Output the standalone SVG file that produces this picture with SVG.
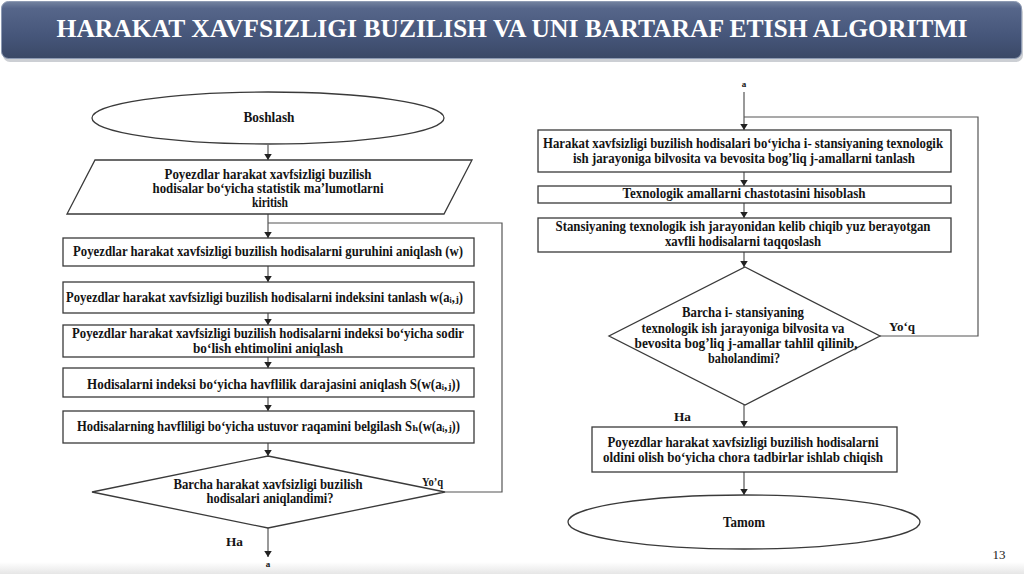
<svg xmlns="http://www.w3.org/2000/svg" width="1024" height="574" viewBox="0 0 1024 574">
<defs>
<linearGradient id="hdr" x1="0" y1="0" x2="0" y2="1">
<stop offset="0" stop-color="#7483a0"/>
<stop offset="0.12" stop-color="#56668a"/>
<stop offset="0.6" stop-color="#46567a"/>
<stop offset="1" stop-color="#3a4866"/>
</linearGradient>
<linearGradient id="foot" x1="0" y1="0" x2="0" y2="1">
<stop offset="0" stop-color="#ffffff"/>
<stop offset="1" stop-color="#e6e6e6"/>
</linearGradient>
<marker id="ah" viewBox="0 0 8 10" refX="8" refY="5" markerWidth="6" markerHeight="8" markerUnits="userSpaceOnUse" orient="auto">
<path d="M0,0 L8,5 L0,10 z" fill="#222"/>
</marker>
</defs>
<style>
.sh{fill:#fff;stroke:#3a3a3a;stroke-width:1.3}
.ln{fill:none;stroke:#555;stroke-width:1.2}
.t{font-family:"Liberation Serif","Times New Roman","DejaVu Serif",serif;font-weight:bold;font-size:14px;fill:#141414;text-anchor:middle}
.s{font-family:"Liberation Serif","Times New Roman","DejaVu Serif",serif;font-weight:bold;font-size:14px;fill:#141414}
.lb{font-family:"Liberation Serif","Times New Roman",serif;font-weight:bold;font-size:13px;fill:#141414}
.sm{font-family:"Liberation Serif","Times New Roman",serif;font-weight:bold;font-size:9px;fill:#141414;text-anchor:middle}
</style>
<rect x="0" y="0" width="1024" height="574" fill="#fff"/>
<rect x="0" y="562" width="1024" height="12" fill="url(#foot)"/>
<g id="header">
<rect x="3" y="5" width="1020" height="57" rx="7" fill="#9aa0aa" opacity="0.5"/>
<rect x="1.5" y="1.5" width="1020" height="57" rx="7" fill="url(#hdr)" stroke="#8d9ab3" stroke-width="1"/>
<text x="512" y="37" font-family="'Liberation Serif','Times New Roman',serif" font-weight="bold" font-size="25" fill="#fff" text-anchor="middle" textLength="911" lengthAdjust="spacingAndGlyphs">HARAKAT XAVFSIZLIGI BUZILISH VA UNI BARTARAF ETISH ALGORITMI</text>
</g>
<g id="connectors">
<line class="ln" x1="268" y1="145" x2="268" y2="160" marker-end="url(#ah)"/>
<line class="ln" x1="268" y1="214" x2="268" y2="238" marker-end="url(#ah)"/>
<line class="ln" x1="268" y1="266" x2="268" y2="282" marker-end="url(#ah)"/>
<line class="ln" x1="268" y1="313" x2="268" y2="325" marker-end="url(#ah)"/>
<line class="ln" x1="268" y1="357" x2="268" y2="368" marker-end="url(#ah)"/>
<line class="ln" x1="268" y1="397" x2="268" y2="411" marker-end="url(#ah)"/>
<line class="ln" x1="268" y1="443" x2="268" y2="456" marker-end="url(#ah)"/>
<line class="ln" x1="268" y1="528" x2="268" y2="557" marker-end="url(#ah)"/>
<polyline class="ln" points="445,492 502,492 502,223 268,223"/>
<line class="ln" x1="744" y1="92" x2="744" y2="130" marker-end="url(#ah)"/>
<polyline class="ln" points="880,336 978,336 978,117 744,117"/>
<line class="ln" x1="744" y1="172" x2="744" y2="186" marker-end="url(#ah)"/>
<line class="ln" x1="744" y1="203" x2="744" y2="218" marker-end="url(#ah)"/>
<line class="ln" x1="744" y1="252" x2="744" y2="267" marker-end="url(#ah)"/>
<line class="ln" x1="744" y1="405" x2="744" y2="427" marker-end="url(#ah)"/>
<line class="ln" x1="744" y1="472" x2="744" y2="495" marker-end="url(#ah)"/>
<text class="lb" x="422" y="486" textLength="21" lengthAdjust="spacingAndGlyphs">Yo’q</text>
<text class="lb" x="226" y="546" textLength="17" lengthAdjust="spacingAndGlyphs">Ha</text>
<text class="sm" x="268" y="567">a</text>
<text class="sm" x="744" y="87">a</text>
<text class="lb" x="889" y="331" textLength="26" lengthAdjust="spacingAndGlyphs">Yo‘q</text>
<text class="lb" x="674" y="421" textLength="17" lengthAdjust="spacingAndGlyphs">Ha</text>
</g>
<g id="start">
<ellipse class="sh" cx="268" cy="118" rx="176" ry="26"/>
<text class="t" x="269" y="122" textLength="51" lengthAdjust="spacingAndGlyphs">Boshlash</text>
</g>
<g id="input">
<polygon class="sh" points="95,160 472,160 444,214 67,214"/>
<text class="t" x="268" y="179" textLength="207" lengthAdjust="spacingAndGlyphs">Poyezdlar harakat xavfsizligi buzilish</text>
<text class="t" x="268" y="193" textLength="231" lengthAdjust="spacingAndGlyphs">hodisalar bo‘yicha statistik ma’lumotlarni</text>
<text class="t" x="270" y="207" textLength="36" lengthAdjust="spacingAndGlyphs">kiritish</text>
</g>
<g id="box1">
<rect class="sh" x="63" y="238" width="411" height="28"/>
<text class="t" x="268" y="256" textLength="390" lengthAdjust="spacingAndGlyphs">Poyezdlar harakat xavfsizligi buzilish hodisalarni guruhini aniqlash (w)</text>
</g>
<g id="box2">
<rect class="sh" x="63" y="282" width="411" height="31"/>
<text class="s" x="66" y="302" textLength="397" lengthAdjust="spacingAndGlyphs">Poyezdlar harakat xavfsizligi buzilish hodisalarni indeksini tanlash w(aᵢ,ⱼ)</text>
</g>
<g id="box3">
<rect class="sh" x="63" y="325" width="411" height="32"/>
<text class="t" x="268" y="338" textLength="392" lengthAdjust="spacingAndGlyphs">Poyezdlar harakat xavfsizligi buzilish hodisalarni indeksi bo‘yicha sodir</text>
<text class="t" x="268" y="353" textLength="150" lengthAdjust="spacingAndGlyphs">bo‘lish ehtimolini aniqlash</text>
</g>
<g id="box4">
<rect class="sh" x="63" y="368" width="411" height="29"/>
<text class="s" x="87" y="389" textLength="373" lengthAdjust="spacingAndGlyphs">Hodisalarni indeksi bo‘yicha havflilik darajasini aniqlash S(w(aᵢ,ⱼ))</text>
</g>
<g id="box5">
<rect class="sh" x="63" y="411" width="411" height="32"/>
<text class="s" x="77" y="431" textLength="383" lengthAdjust="spacingAndGlyphs">Hodisalarning havfliligi bo‘yicha ustuvor raqamini belgilash Sₕ(w(aᵢ,ⱼ))</text>
</g>
<g id="decision1">
<polygon class="sh" points="268,456 445,492 268,528 92,492"/>
<text class="t" x="268" y="489" textLength="189" lengthAdjust="spacingAndGlyphs">Barcha harakat xavfsizligi buzilish</text>
<text class="t" x="270" y="503" textLength="127" lengthAdjust="spacingAndGlyphs">hodisalari aniqlandimi?</text>
</g>
<g id="rbox1">
<rect class="sh" x="538" y="130" width="413" height="42"/>
<text class="t" x="743" y="148" textLength="400" lengthAdjust="spacingAndGlyphs">Harakat xavfsizligi buzilish hodisalari bo‘yicha i- stansiyaning texnologik</text>
<text class="t" x="744" y="163" textLength="342" lengthAdjust="spacingAndGlyphs">ish jarayoniga bilvosita va bevosita bog’liq j-amallarni tanlash</text>
</g>
<g id="rbox2">
<rect class="sh" x="538" y="186" width="413" height="17"/>
<text class="t" x="744" y="198" textLength="243" lengthAdjust="spacingAndGlyphs">Texnologik amallarni chastotasini  hisoblash</text>
</g>
<g id="rbox3">
<rect class="sh" x="538" y="218" width="413" height="34"/>
<text class="t" x="743" y="231" textLength="375" lengthAdjust="spacingAndGlyphs">Stansiyaning texnologik ish jarayonidan kelib chiqib yuz berayotgan</text>
<text class="t" x="743" y="246" textLength="156" lengthAdjust="spacingAndGlyphs">xavfli hodisalarni taqqoslash</text>
</g>
<g id="decision2">
<polygon class="sh" points="745,267 880,336 745,405 609,336"/>
<text class="t" x="743" y="317" textLength="122" lengthAdjust="spacingAndGlyphs">Barcha i- stansiyaning</text>
<text class="t" x="743" y="333" textLength="203" lengthAdjust="spacingAndGlyphs">texnologik ish jarayoniga bilvosita va</text>
<text class="t" x="746" y="348" textLength="223" lengthAdjust="spacingAndGlyphs">bevosita bog’liq j-amallar tahlil qilinib,</text>
<text class="t" x="744" y="363" textLength="72" lengthAdjust="spacingAndGlyphs">baholandimi?</text>
</g>
<g id="rbox4">
<rect class="sh" x="592" y="427" width="305" height="45"/>
<text class="t" x="743" y="447" textLength="271" lengthAdjust="spacingAndGlyphs">Poyezdlar harakat xavfsizligi buzilish hodisalarni</text>
<text class="t" x="743" y="462" textLength="280" lengthAdjust="spacingAndGlyphs">oldini olish bo‘yicha  chora tadbirlar ishlab chiqish</text>
</g>
<g id="end">
<ellipse class="sh" cx="744" cy="522" rx="176" ry="27"/>
<text class="t" x="744" y="527" textLength="42" lengthAdjust="spacingAndGlyphs">Tamom</text>
</g>
<text x="999" y="559" font-family="'Liberation Serif','Times New Roman',serif" font-size="13" fill="#222" text-anchor="middle">13</text>
</svg>
